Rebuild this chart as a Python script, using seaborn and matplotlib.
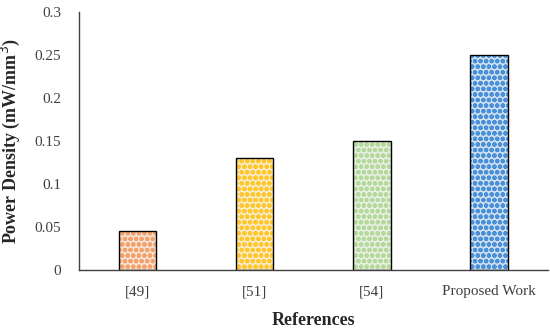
import pandas as pd
import matplotlib
matplotlib.use('Agg')
import matplotlib.pyplot as plt
import seaborn as sns

#%% Dados

referencias = ['[49]', '[51]', '[54]', 'Proposed Work']
densidade = [0.045, 0.13, 0.15, 0.25]
cores_fundo = ['#FBE3D3', '#FFF0C0', '#E8F3DF', '#C9DFF3']
cores_pontos = ['#F4A26C', '#FFC62E', '#B5D99C', '#4A90D9']

df = pd.DataFrame({'ref': referencias, 'pd': densidade})

#%% Gráfico

sns.set_style('white')
plt.rcParams['font.family'] = ['Liberation Serif', 'DejaVu Serif']
plt.rcParams['hatch.linewidth'] = 1.5

fig = plt.figure(figsize=(5.5, 3.33), dpi=100, facecolor='white')
ax = fig.add_axes([0.1436, 0.189, 0.852, 0.775])

# preenchimento com pontos
sns.barplot(data=df, x='ref', y='pd', hue='ref', palette=cores_fundo,
            width=0.32, linewidth=0, legend=False, ax=ax)
for barra, cor in zip(ax.patches, cores_pontos):
    barra.set_hatch('ooo')
    barra.set_edgecolor(cor)

# contorno preto
sns.barplot(data=df, x='ref', y='pd', width=0.32, fill=False,
            edgecolor='black', linewidth=1.0, ax=ax)

ax.set_ylim(0, 0.3)
ax.set_yticks([0, 0.05, 0.1, 0.15, 0.2, 0.25, 0.3])
ax.set_yticklabels(['0', '0.05', '0.1', '0.15', '0.2', '0.25', '0.3'])
ax.tick_params(axis='both', length=0, labelsize=11, colors='#404040')
ax.tick_params(axis='x', pad=11)
ax.tick_params(axis='y', pad=13)

ax.set_xlabel('References', fontsize=13, fontweight='bold', labelpad=10)
ax.set_ylabel('Power Density (mW/mm$^3$)', fontsize=13, fontweight='bold', labelpad=9)

sns.despine(ax=ax)
for lado in ['left', 'bottom']:
    ax.spines[lado].set_color('#404040')
    ax.spines[lado].set_linewidth(1.0)

plt.savefig('out.png', dpi=100)
